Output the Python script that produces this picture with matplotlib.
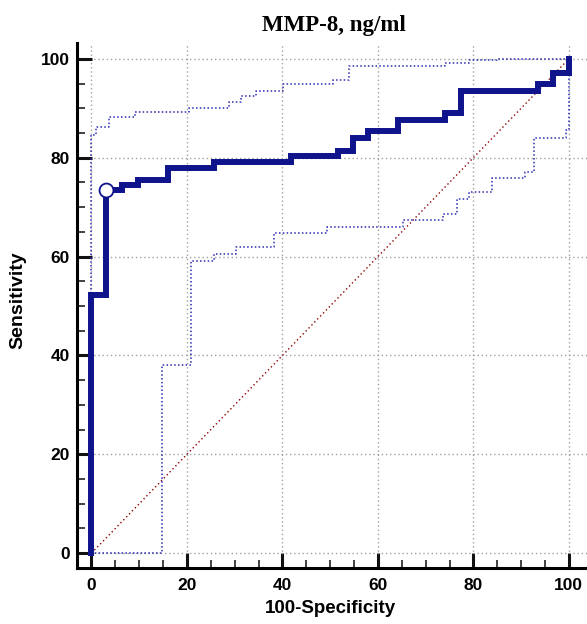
import matplotlib
matplotlib.use("Agg")
import matplotlib.pyplot as plt
from matplotlib.ticker import MultipleLocator

# ROC curve (100-Specificity vs Sensitivity), step corners
roc_x = [0, 0, 3.0, 6.3, 9.7, 16.1, 25.6, 41.7, 51.6, 54.7, 58.0, 64.3, 74.0, 77.4, 93.6, 96.7, 100]
roc_y = [0, 52.2, 73.4, 74.4, 75.5, 77.9, 79.1, 80.4, 81.4, 83.9, 85.3, 87.7, 89.0, 93.5, 94.9, 97.2, 100]

# 95% confidence bounds
upper_x = [0, 0, 0.9, 3.7, 9.1, 20.4, 28.7, 31.4, 34.4, 40.2, 50.5, 53.9, 74.0, 79.1, 84.9, 100]
upper_y = [0, 84.6, 86.2, 88.2, 89.2, 90.0, 91.2, 92.5, 93.4, 94.9, 95.7, 98.6, 99.1, 99.8, 100, 100]
lower_x = [0, 14.8, 20.8, 25.6, 30.2, 38.2, 49.3, 65.3, 73.7, 76.5, 79.1, 84.0, 90.8, 92.7, 99.5, 100]
lower_y = [0, 38.1, 59.2, 60.5, 62.0, 64.7, 65.9, 67.4, 68.6, 71.6, 73.0, 75.8, 77.2, 83.9, 85.6, 100]

# optimal criterion point
crit_x = 3.0
crit_y = 73.4

navy = "#10148c"
sans = "Liberation Sans"

fig = plt.figure(figsize=(5.87, 6.24), dpi=100)
ax = fig.add_axes([76.7 / 587, 56 / 624, 1 - 76.7 / 587, 525 / 624])

ax.plot([0, 100], [0, 100], color="#8b0000", lw=1.0, ls=(0, (1, 2)))
ax.step(upper_x, upper_y, where="post", color="#2a2ab0", lw=1.1, ls=(0, (1, 1.5)))
ax.step(lower_x, lower_y, where="post", color="#2a2ab0", lw=1.1, ls=(0, (1, 1.5)))
ax.step(roc_x, roc_y, where="post", color=navy, lw=4.3, solid_joinstyle="miter")
ax.plot(crit_x, crit_y, "o", ms=10, mfc="white", mec=navy, mew=1.3)

ax.set_xlim(-3.1, 103.8)
ax.set_ylim(-3.0, 103.2)

ax.xaxis.set_major_locator(MultipleLocator(20))
ax.xaxis.set_minor_locator(MultipleLocator(5))
ax.yaxis.set_major_locator(MultipleLocator(20))
ax.yaxis.set_minor_locator(MultipleLocator(5))
ax.set_xticks([0, 20, 40, 60, 80, 100])
ax.set_yticks([0, 20, 40, 60, 80, 100])

ax.grid(True, which="major", color="#a0a0a0", ls=(0, (1, 2)), lw=1.0)
ax.set_axisbelow(True)

for s in ["top", "right"]:
    ax.spines[s].set_visible(False)
for s in ["left", "bottom"]:
    ax.spines[s].set_linewidth(2.2)
ax.spines["left"].set_bounds(-3.0, 103.2)

ax.tick_params(which="major", direction="in", length=10.8, width=2.2, color="#111111")
ax.tick_params(which="minor", direction="in", length=5.5, width=1.2, color="#222222")
ax.tick_params(axis="x", which="major", pad=7)
ax.tick_params(axis="y", which="major", pad=5)
for lab in ax.get_xticklabels() + ax.get_yticklabels():
    lab.set_fontfamily(sans)
    lab.set_fontweight("bold")
    lab.set_fontsize(12.5)

fig.text(334 / 587, 1 - 31 / 624, "MMP-8, ng/ml", ha="center", va="baseline",
         family="Liberation Serif", weight="bold", fontsize=16.5)
fig.text(330 / 587, 1 - 613 / 624, "100-Specificity", ha="center", va="baseline",
         family=sans, weight="bold", fontsize=13.5)
fig.text(17.5 / 587, 1 - 300 / 624, "Sensitivity", ha="center", va="center", rotation=90,
         family=sans, weight="bold", fontsize=14)

fig.savefig("out.png", dpi=100)
